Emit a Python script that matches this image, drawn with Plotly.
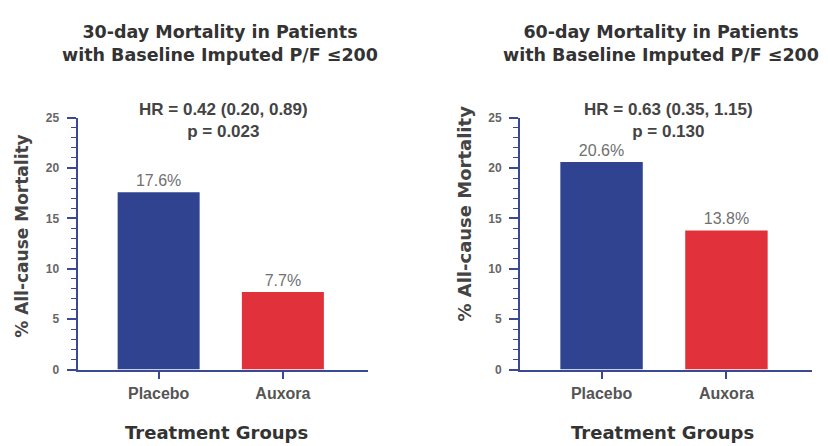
import plotly.graph_objects as go

categories = ["Placebo", "Auxora"]
mort30 = [17.6, 7.7]
mort60 = [20.6, 13.8]
titles = ["30-day Mortality in Patients<br>with Baseline Imputed P/F \u2264200",
          "60-day Mortality in Patients<br>with Baseline Imputed P/F \u2264200"]
stats = ["HR = 0.42 (0.20, 0.89)<br>p = 0.023",
         "HR = 0.63 (0.35, 1.15)<br>p = 0.130"]
y_ticks = [0, 5, 10, 15, 20, 25]

BLUE = "#2F4391"
RED = "#E1313A"
AXIS = "#3A4896"
ARIAL = "Liberation Sans"
WIDE = "DejaVu Sans"

W, H, OFF = 830, 446, 8


def px(x):
    return (x - OFF) / W


def py(y):
    return 1 - (y - OFF) / H


fig = go.Figure()
for i, vals in enumerate([mort30, mort60]):
    xa = "x" if i == 0 else "x2"
    ya = "y" if i == 0 else "y2"
    fig.add_trace(go.Bar(
        x=categories, y=vals, xaxis=xa, yaxis=ya,
        marker=dict(color=[BLUE, RED], line=dict(width=0)),
        width=0.66,
        text=[f"{v:.1f}%" for v in vals],
        textposition="outside",
        textfont=dict(family=ARIAL, size=16, color="#707070"),
        cliponaxis=False,
        showlegend=False,
    ))

ydom = [py(374), py(114)]
xdoms = [[px(77.5), px(368)], [px(520), px(812)]]

common_x = dict(
    type="category", range=[-0.653, 1.685],
    showline=True, linecolor=AXIS, linewidth=1.8,
    ticks="outside", ticklen=8, tickcolor=AXIS, tickwidth=1.8,
    tickfont=dict(family=ARIAL, size=16, color="#555555", weight="bold"),
    showgrid=False, zeroline=False, fixedrange=True,
)
common_y = dict(
    range=[0, 25], tickvals=y_ticks,
    showline=True, linecolor=AXIS, linewidth=1.8,
    ticks="outside", ticklen=9, tickcolor=AXIS, tickwidth=1.8,
    minor=dict(dtick=1, ticklen=5, tickcolor=AXIS, tickwidth=1.2, ticks="outside", showgrid=False),
    tickfont=dict(family=ARIAL, size=12, color="#666666", weight="bold"),
    ticklabelstandoff=5,
    showgrid=False, zeroline=False, fixedrange=True,
)

fig.update_layout(
    width=W, height=H,
    margin=dict(l=0, r=0, t=0, b=0),
    paper_bgcolor="white", plot_bgcolor="white",
    xaxis=dict(domain=xdoms[0], anchor="y", **common_x),
    yaxis=dict(domain=ydom, anchor="x", **common_y),
    xaxis2=dict(domain=xdoms[1], anchor="y2", **common_x),
    yaxis2=dict(domain=ydom, anchor="x2", **common_y),
)

title_x = [220, 661]
stat_x = [223, 668]
ytitle_x = [22, 465]
ytitle_y = [237, 213]
ytitle_size = [17, 18]
xtitle_x = [216, 662]
for i in range(2):
    fig.add_annotation(text=f"<b>{titles[i]}</b>", xref="paper", yref="paper",
                       x=px(title_x[i]), y=py(37.5), xanchor="center", yanchor="middle",
                       showarrow=False, font=dict(family=WIDE, size=17.5, color="#333333"))
    fig.add_annotation(text=f"<b>{stats[i]}</b>", xref="paper", yref="paper",
                       x=px(stat_x[i]), y=py(117), xanchor="center", yanchor="middle",
                       showarrow=False, font=dict(family=ARIAL, size=17, color="#444444"))
    fig.add_annotation(text="<b>% All-cause Mortality</b>", xref="paper", yref="paper",
                       x=px(ytitle_x[i]), y=py(ytitle_y[i]), xanchor="center", yanchor="middle",
                       textangle=-90, showarrow=False,
                       font=dict(family=WIDE, size=ytitle_size[i], color="#444444"))
    fig.add_annotation(text="<b>Treatment Groups</b>", xref="paper", yref="paper",
                       x=px(xtitle_x[i]), y=py(439), xanchor="center", yanchor="middle",
                       showarrow=False, font=dict(family=WIDE, size=18, color="#333333"))

fig.write_html("out.html")
